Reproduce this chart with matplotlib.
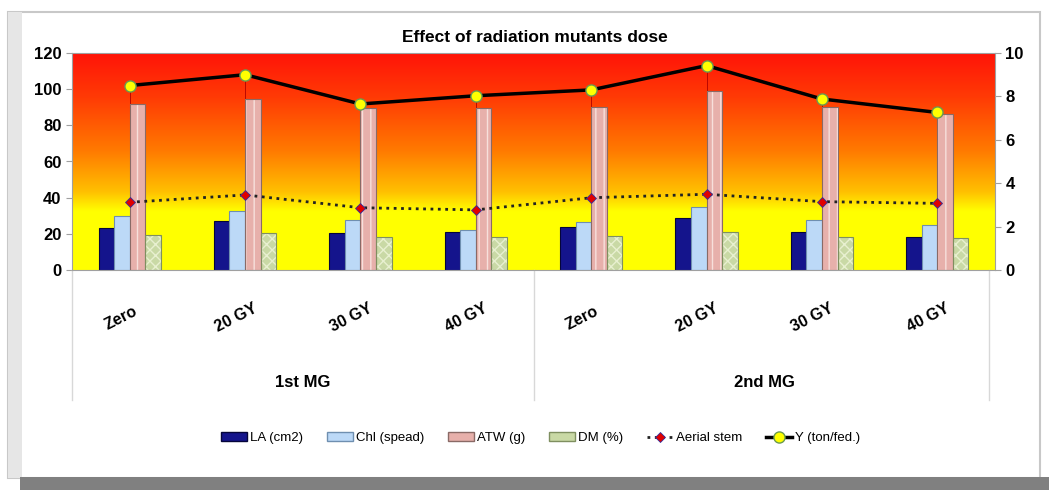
import numpy as np
import matplotlib
matplotlib.use('Agg')
import matplotlib.pyplot as plt
from matplotlib.colors import LinearSegmentedColormap
from matplotlib.patches import Rectangle, Patch
import matplotlib.transforms as mtransforms

plt.rcParams['font.family'] = ['Liberation Sans', 'DejaVu Sans']

# data
doses = ['Zero', '20 GY', '30 GY', '40 GY', 'Zero', '20 GY', '30 GY', '40 GY']
groups = ['1st MG', '2nd MG']
la = [23, 27, 20.5, 21, 24, 28.5, 21, 18]
chl = [30, 32.7, 27.7, 22, 26.7, 35, 27.7, 25]
atw = [92, 94.5, 89.5, 89.5, 90, 99, 90, 86]
dm = [19.5, 20.5, 18.5, 18, 18.8, 21, 18.5, 17.5]
aerial = [3.12, 3.46, 2.87, 2.77, 3.33, 3.49, 3.15, 3.07]
yld = [8.5, 9.0, 7.65, 8.03, 8.3, 9.42, 7.88, 7.26]

fig = plt.figure(figsize=(10.49, 4.90), dpi=100)
fig.patch.set_facecolor('white')

# outer frame with bevel/shadow
fig.add_artist(Rectangle((8/1049, 12/490), 1032/1049, 466/490, transform=fig.transFigure,
                         facecolor='white', edgecolor='#c8c8c8', lw=1.5, zorder=-5))
fig.add_artist(Rectangle((8/1049, 12/490), 14/1049, 466/490, transform=fig.transFigure,
                         facecolor='#e6e6e6', edgecolor='none', zorder=-4))
fig.add_artist(Rectangle((20/1049, 0), 1029/1049, 13/490, transform=fig.transFigure,
                         facecolor='#808080', edgecolor='none', zorder=-4))

ax = fig.add_axes([72/1049, 1 - 270/490, 923/1049, 217/490])
x = np.arange(len(doses))
ax.set_xlim(-0.5, len(doses) - 0.5)
ax.set_ylim(0, 120)

# gradient background
cmap = LinearSegmentedColormap.from_list('bg', [
    (0.0, '#ffff00'), (0.27, '#ffff00'), (0.36, '#ffc000'),
    (0.55, '#ff7a00'), (0.8, '#ff3a05'), (1.0, '#ff1408')])
grad = np.linspace(0, 1, 256).reshape(-1, 1)
ax.imshow(grad, cmap=cmap, aspect='auto', origin='lower',
          extent=[-0.5, len(doses) - 0.5, 0, 120], zorder=0)

w = 0.135
ax.vlines(x, 0, np.array(yld) * 12, color='#b00000', lw=0.6, zorder=1)
ax.bar(x - 1.5 * w, la, w, color='#14148c', edgecolor='#05053a', lw=0.8, zorder=2)
ax.bar(x - 0.5 * w, chl, w, color='#bcd9f7', edgecolor='#6f8fb0', lw=0.8, zorder=2)
ax.bar(x + 0.5 * w, atw, w, color='#e7b0ab', edgecolor='#f7e0dc', hatch='||', lw=0, zorder=2)
ax.bar(x + 0.5 * w, atw, w, color='none', edgecolor='#8a6a66', lw=0.8, zorder=3)
ax.bar(x + 1.5 * w, dm, w, color='#c9d9a5', edgecolor='#e8f0d0', hatch='xxx', lw=0, zorder=2)
ax.bar(x + 1.5 * w, dm, w, color='none', edgecolor='#7f8f60', lw=0.8, zorder=3)

ax.set_yticks(np.arange(0, 121, 20))
ax.set_xticks([])
for s in ax.spines.values():
    s.set_color('#a0a0a0')
    s.set_linewidth(0.8)
ax.tick_params(axis='y', length=4, color='#a0a0a0', labelsize=12)
for t in ax.get_yticklabels():
    t.set_fontweight('bold')

ax2 = ax.twinx()
ax2.set_ylim(0, 10)
ax2.set_yticks(np.arange(0, 11, 2))
ax2.tick_params(axis='y', length=4, color='#a0a0a0', labelsize=12)
for t in ax2.get_yticklabels():
    t.set_fontweight('bold')
for s in ax2.spines.values():
    s.set_visible(False)
ax2.plot(x, aerial, ':', color='#222222', lw=2, marker='D', ms=5,
         mfc='#e00000', mec='#3030a0', mew=0.6, label='Aerial stem', zorder=5)
ax2.plot(x, yld, '-', color='black', lw=2.5, marker='o', ms=8,
         mfc='#ffff00', mec='#6a9a50', mew=1, label='Y (ton/fed.)', zorder=6)

# category labels
trans = mtransforms.blended_transform_factory(ax.transData, ax.transAxes)
for xi, d in zip(x, doses):
    ax.text(xi - 0.08, -0.22, d, transform=trans, rotation=27, ha='center', va='center',
            fontsize=11.5, fontweight='bold')
for gi, g in enumerate(groups):
    ax.text(1.5 + 4 * gi, -0.52, g, transform=trans, ha='center', va='center',
            fontsize=12, fontweight='bold')
for sx in [-0.5, 3.5, 7.45]:
    ax.plot([sx, sx], [0, -0.6], transform=trans, color='#d8d8d8', lw=1, clip_on=False)

fig.text(535/1049, 1 - 38/490, 'Effect of radiation mutants dose', ha='center', va='center',
         fontsize=12.5, fontweight='bold')

# legend
handles = [Patch(facecolor='#14148c', edgecolor='#05053a'),
           Patch(facecolor='#bcd9f7', edgecolor='#6f8fb0'),
           Patch(facecolor='#e7b0ab', edgecolor='#8a6a66'),
           Patch(facecolor='#c9d9a5', edgecolor='#7f8f60')] + ax2.get_lines()
labels = ['LA (cm2)', 'Chl (spead)', 'ATW (g)', 'DM (%)', 'Aerial stem', 'Y (ton/fed.)']
fig.legend(handles, labels, loc='center', bbox_to_anchor=(0.515, 1 - 438/490), ncol=6,
           frameon=False, fontsize=9.5, handlelength=2.0, handleheight=0.6,
           columnspacing=1.8, handletextpad=0.2)

fig.savefig('out.png', dpi=100)
